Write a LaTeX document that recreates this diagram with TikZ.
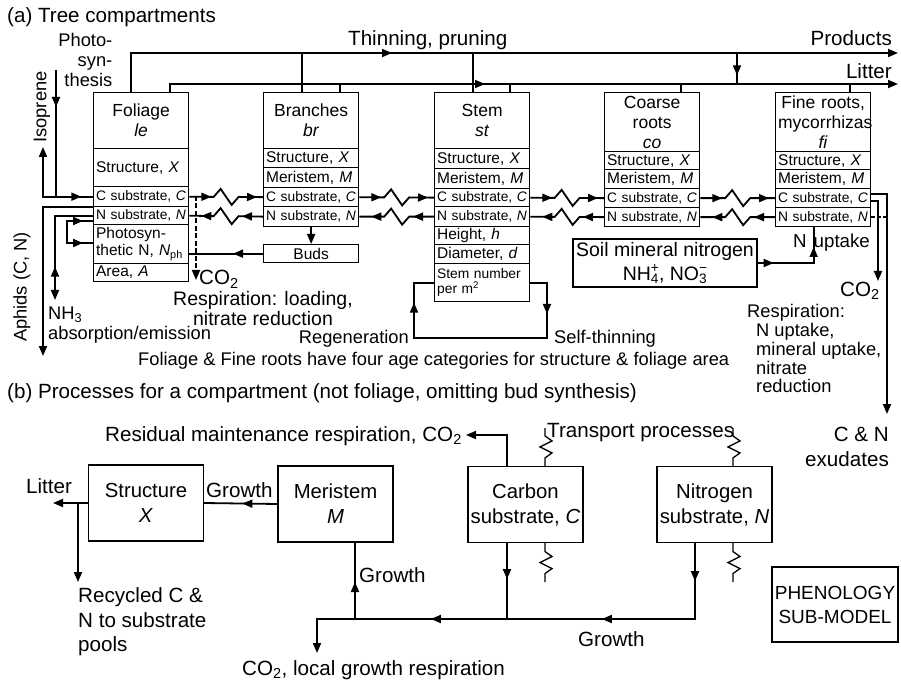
\documentclass[tikz,border=0pt]{standalone}
\usepackage{fontspec}
\setmainfont{Liberation Sans}
\usetikzlibrary{arrows.meta,decorations.markings,calc}

% type sizes used in the figure
\newcommand\fbig{\fontsize{20.6}{22}\selectfont}
\newcommand\fmid{\fontsize{18.3}{20}\selectfont}
\newcommand\fhead{\fontsize{17.5}{20}\selectfont}
\newcommand\frow{\fontsize{15.5}{17}\selectfont}
\newcommand\fsml{\fontsize{13.8}{15.5}\selectfont}
\newcommand\fpool{\fontsize{20.3}{25}\selectfont}

\begin{document}
\begin{tikzpicture}[x=1pt,y=-1pt,
  every node/.style={inner sep=0pt},
  >={Triangle[length=10pt,width=8pt]},
  wire/.style={line width=1.8pt},
  thinwire/.style={line width=1.3pt},
  cell/.style={draw,line width=1.3pt,anchor=north west,inner xsep=2.5pt,inner ysep=0pt,
    text width=90pt,minimum width=95pt,align=left},
  head/.style={cell,align=center,font=\fhead},
  arrowat/.style={postaction={decorate,decoration={markings,mark=at position #1 with {\arrow{>}}}}},
  arrowback/.style={postaction={decorate,decoration={markings,mark=at position #1 with {\arrowreversed{>}}}}},
  zigpath/.style={to path={-- ($(\tikztostart)!0.5!(\tikztotarget)+(-12.5,0)$) -- ++(7,-8) -- ++(11,16) -- ++(7,-8) -- (\tikztotarget)}},
  transC/.style={wire,zigpath,arrowat=22pt,arrowat=-6pt},
  transN/.style={wire,zigpath,arrowback=12pt,arrowback=-21pt},
  vzz/.style={to path={-- ($(\tikztostart)!0.5!(\tikztotarget)+(0,-11)$) -- ++(7,5) -- ++(-12,6) -- ++(12,6) -- ++(-7,5) -- (\tikztotarget)}},
  bbox/.style={draw,line width=1.3pt,minimum width=115pt,minimum height=76pt,align=center,font=\fpool},
  dashwire/.style={wire,dash pattern=on 5pt off 2.5pt}
]
\useasboundingbox (0,0) rectangle (901,684);

% ---------------- (a) tree compartments ----------------
\node[font=\fbig,anchor=base west] (ta) at (7,22.5) {(a) Tree compartments};

% Foliage
\node[head,minimum height=56pt] (le) at (93,92) {Foliage\\\textit{le}};
\node[cell,font=\frow,minimum height=38pt] (le-X) at (93,148) {Structure, \textit{X}};
\node[cell,font=\fsml,minimum height=20pt] (le-C) at (93,186) {C substrate, \textit{C}};
\node[cell,font=\fsml,minimum height=18pt] (le-N) at (93,206) {N substrate, \textit{N}};
\node[cell,font=\frow,minimum height=39pt] (le-P) at (93,224) {Photosyn-\\thetic N, \textit{N}\textsubscript{ph}};
\node[cell,font=\frow,minimum height=18pt] (le-A) at (93,263) {Area, \textit{A}};

% Branches
\node[head,minimum height=56pt] (br) at (263,92) {Branches\\\textit{br}};
\node[cell,font=\frow,minimum height=19pt] (br-X) at (263,148) {Structure, \textit{X}};
\node[cell,font=\frow,minimum height=20pt] (br-M) at (263,167) {Meristem, \textit{M}};
\node[cell,font=\fsml,minimum height=19pt] (br-C) at (263,187) {C substrate, \textit{C}};
\node[cell,font=\fsml,minimum height=20pt] (br-N) at (263,206) {N substrate, \textit{N}};
\node[draw,line width=1.3pt,anchor=north west,minimum width=95pt,minimum height=18pt,font=\frow] (buds) at (263,244) {Buds};

% Stem
\node[head,minimum height=56pt] (st) at (434,92) {Stem\\\textit{st}};
\node[cell,font=\frow,minimum height=20pt] (st-X) at (434,148) {Structure, \textit{X}};
\node[cell,font=\frow,minimum height=20pt] (st-M) at (434,168) {Meristem, \textit{M}};
\node[cell,font=\fsml,minimum height=18pt] (st-C) at (434,188) {C substrate, \textit{C}};
\node[cell,font=\fsml,minimum height=20pt] (st-N) at (434,206) {N substrate, \textit{N}};
\node[cell,font=\frow,minimum height=18pt] (st-H) at (434,226) {Height, \textit{h}};
\node[cell,font=\frow,minimum height=19pt] (st-D) at (434,244) {Diameter, \textit{d}};
\node[cell,font=\fsml,minimum height=38pt] (st-S) at (434,263) {Stem number\\per m\textsuperscript{2}};

% Coarse roots
\node[head,minimum height=59pt] (co) at (604,92) {Coarse\\roots\\\textit{co}};
\node[cell,font=\frow,minimum height=18pt] (co-X) at (604,151) {Structure, \textit{X}};
\node[cell,font=\frow,minimum height=19pt] (co-M) at (604,169) {Meristem, \textit{M}};
\node[cell,font=\fsml,minimum height=19pt] (co-C) at (604,188) {C substrate, \textit{C}};
\node[cell,font=\fsml,minimum height=19pt] (co-N) at (604,207) {N substrate, \textit{N}};

% Fine roots
\node[head,minimum height=59pt] (fi) at (775,92) {Fine roots,\\mycorrhizas\\\textit{fi}};
\node[cell,font=\frow,minimum height=18pt] (fi-X) at (775,151) {Structure, \textit{X}};
\node[cell,font=\frow,minimum height=19pt] (fi-M) at (775,169) {Meristem, \textit{M}};
\node[cell,font=\fsml,minimum height=19pt] (fi-C) at (775,188) {C substrate, \textit{C}};
\node[cell,font=\fsml,minimum height=19pt] (fi-N) at (775,207) {N substrate, \textit{N}};

% transport between compartments
\draw[transC] (le-C.east) to (br-C.west);
\draw[transC] (br-C.east) to (st-C.west);
\draw[transC] (st-C.east) to (co-C.west);
\draw[transC] (co-C.east) to (fi-C.west);
\draw[transN] (le-N.east) to (br-N.west);
\draw[transN] (br-N.east) to (st-N.west);
\draw[transN] (st-N.east) to (co-N.west);
\draw[transN] (co-N.east) to (fi-N.west);

% thinning / litter lines
\coordinate (prodEnd) at (898,53);
\coordinate (litEnd) at (898,84);
\coordinate (tBr) at (302,53);
\coordinate (lBr) at (340,84);
\coordinate (tSt) at (473,53);
\coordinate (lSt) at (510,84);
\coordinate (lCo) at (681,84);
\coordinate (lFi) at (850,84);
\coordinate (tDn) at (737,53);
\coordinate (lDn) at (737,84);
\draw[wire,->,arrowat=300pt] ($(le.north west)+(38,0)$) |- (prodEnd);
\draw[wire,->,arrowat=323pt] ($(le.north west)+(77,0)$) |- (litEnd);
\draw[wire] (br.north -| tBr) -- (tBr);
\draw[wire] (br.north -| lBr) -- (lBr);
\draw[wire] (st.north -| tSt) -- (tSt);
\draw[wire] (st.north -| lSt) -- (lSt);
\draw[wire] (co.north -| lCo) -- (lCo);
\draw[wire] (fi.north -| lFi) -- (lFi);
\draw[wire,arrowat=0.72] (tDn) -- (lDn);
\node[font=\fbig,anchor=base west] (thin) at (348,46) {Thinning, pruning};
\node[font=\fbig,anchor=base east] (prod) at (892,46) {Products};
\node[font=\fbig,anchor=base east] (litt) at (892,79) {Litter};

% foliage exchanges on the left
\node[font=\fmid,align=right,anchor=north east] (photo) at (112.5,33) {Photo-\\syn-\\thesis};
\coordinate (psTop) at (56,70);
\draw[wire,arrowat=37pt,arrowat=152pt] (psTop) |- (le-C.west);
\coordinate (isoTop) at (43,147);
\draw[wire,->] (le-C.west) -| (isoTop);
\node[font=\fmid,rotate=90] (iso) at (42,107) {Isoprene};
\coordinate (aphEnd) at (43,356);
\draw[wire,->] (le-C.south west) -| (aphEnd);
\node[font=\fmid,rotate=90] (aph) at (22,287) {Aphids (C, N)};
\coordinate (nhEnd) at (55,300);
\draw[wire,->,arrowback=89pt] (le-N.west) -| (nhEnd);
\node[font=\fmid,align=left,anchor=north west] (nh3) at (48,307) {NH\textsubscript{3}\\absorption/emission};
\coordinate (lpA) at (67,221);
\coordinate (lpB) at (67,243);
\draw[wire,arrowback=10pt,arrowat=-10pt] (le-N.west |- lpA) -- (lpA) -- (lpB) -- (lpB -| le-P.west);

% buds
\draw[wire,->] (br-N.south) -- (buds.north);
\draw[wire,arrowat=30pt] (buds.west) -- (buds.west -| le-P.east);

% foliage respiration
\coordinate (co2a) at (196,196);
\coordinate (co2b) at (196,280);
\draw[dashwire,->] (co2a) -- (co2b);
\node[font=\fbig,anchor=base west] (co2f) at (199,285) {CO\textsubscript{2}};
\node[font=\fontsize{19.5}{19.5}\selectfont,align=center,anchor=north] (resf) at (263,291.5) {Respiration: loading,\\nitrate reduction};

% stem number dynamics
\coordinate (regL) at (414,338);
\coordinate (regR) at (547,338);
\draw[wire,arrowback=40pt,arrowback=-48pt] (st-S.west) -- (st-S.west -| regL) -- (regL) -- (regR) -- (regR |- st-S.east) -- (st-S.east);
\node[font=\fmid,anchor=base east] (regen) at (409,343) {Regeneration};
\node[font=\fmid,anchor=base west] (selft) at (554,343) {Self-thinning};
\node[font=\fmid,anchor=base west] (note) at (138,365) {Foliage \& Fine roots have four age categories for structure \& foliage area};

% soil nitrogen and root exchanges
\node[draw,line width=1.3pt,minimum width=184pt,minimum height=48pt,align=center,font=\fontsize{19.5}{24}\selectfont] (soil) at (665,263)
  {Soil mineral nitrogen\\NH\rlap{\textsuperscript{+}}\textsubscript{4}, NO\rlap{\textsuperscript{\char"2212}}\textsubscript{3}};
\draw[wire,arrowat=16pt,arrowat=72pt] (soil.east) -| ($(fi-N.south)+(-9.5,0)$);
\node[font=\fontsize{18.7}{20}\selectfont,anchor=base west] (nup) at (793,248) {N\hspace{7pt}uptake};
\coordinate (exEnd) at (887,414);
\coordinate (coEnd) at (878,281);
\draw[wire,->] ($(fi-C.east)+(0,-4)$) -| (exEnd);
\draw[wire,->] ($(fi-C.east)+(0,3)$) -| (coEnd);
\draw[thinwire,dash pattern=on 4pt off 2pt] (fi-N.east) -- (fi-N.east -| exEnd);
\node[font=\fbig,anchor=base west] (co2r) at (840,296) {CO\textsubscript{2}};
\node[font=\fontsize{18.3}{18.7}\selectfont,align=left,anchor=north west] (resr) at (747,304.5)
  {Respiration:\\\hspace*{9pt}N uptake,\\\hspace*{9pt}mineral uptake,\\\hspace*{9pt}nitrate\\\hspace*{9pt}reduction};
\node[font=\fbig,anchor=base east] (cn) at (889,441) {C \& N};
\node[font=\fbig,anchor=base east] (exu) at (889,466) {exudates};

% ---------------- (b) processes of one compartment ----------------
\node[font=\fbig,anchor=base west] (tb) at (7,398) {(b) Processes for a compartment (not foliage, omitting bud synthesis)};

\node[bbox] (sx) at (146,503) {Structure\\\textit{X}};
\node[bbox] (mb) at (335.5,504) {Meristem\\\textit{M}};
\node[bbox] (cb) at (525.5,504.5) {Carbon\\substrate, \textit{C}};
\node[bbox] (nb) at (714.5,504.5) {Nitrogen\\substrate, \textit{N}};
\node[bbox,minimum width=126pt,minimum height=75pt,font=\fontsize{19}{24}\selectfont] (ph) at (835,604.5) {PHENOLOGY\\SUB-MODEL};

\draw[wire,arrowat=35pt] (mb.west) -- (sx.east);
\node[font=\fbig,anchor=base west] (gr1) at (206,497) {Growth};
\coordinate (litB) at (53,503);
\draw[wire,->] (sx.west) -- (litB);
\node[font=\fbig,anchor=base west] (litb) at (26,493) {Litter};
\coordinate (recB) at (78,582);
\draw[wire,->] (sx.west -| recB) -- (recB);
\node[font=\fontsize{20.6}{24.5}\selectfont,align=left,anchor=north west] (rec) at (78,587.5) {Recycled C \&\\N to substrate\\pools};

\coordinate (bus) at (0,619);
\coordinate (cDown) at (507,619);
\coordinate (nDown) at (695,619);
\coordinate (mUp) at (355,619);
\coordinate (co2g) at (317,653);
\draw[wire,->,arrowat=38pt,arrowat=169pt,arrowat=340pt] (nb.south -| nDown) -- (nDown) -- (co2g |- bus) -- (co2g);
\draw[wire,arrowat=36pt] (cb.south -| cDown) -- (cDown);
\draw[wire,arrowat=37pt] (mUp) -- (mb.south -| mUp);
\node[font=\fbig,anchor=base west] (gr2) at (359,582) {Growth};
\node[font=\fbig,anchor=base west] (gr3) at (578,646) {Growth};
\node[font=\fbig,anchor=base west] (co2l) at (242,675) {CO\textsubscript{2}, local growth respiration};

\coordinate (resEnd) at (466,435);
\draw[wire,->] (cb.north -| cDown) |- (resEnd);
\node[font=\fbig,anchor=base east] (resid) at (462,441) {Residual maintenance respiration, CO\textsubscript{2}};

\coordinate (zCt) at (545,428);
\coordinate (zNt) at (733,428);
\coordinate (zCb) at (545,582);
\coordinate (zNb) at (733,582);
\draw[thinwire,vzz] (zCt) to (cb.north -| zCt);
\draw[thinwire,vzz] (cb.south -| zCb) to (zCb);
\draw[thinwire,vzz] (zNt) to (nb.north -| zNt);
\draw[thinwire,vzz] (nb.south -| zNb) to (zNb);
\node[font=\fbig,anchor=base west] (trans) at (547,437) {Transport processes};

\end{tikzpicture}
\end{document}
